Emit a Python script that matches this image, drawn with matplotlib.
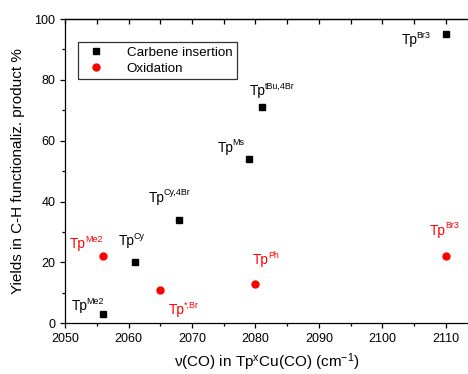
import matplotlib
matplotlib.use("Agg")
import matplotlib.pyplot as plt
from matplotlib.ticker import MultipleLocator

plt.rcParams['font.family'] = ['Liberation Sans', 'DejaVu Sans']
plt.rcParams['mathtext.fontset'] = 'custom'
plt.rcParams['mathtext.rm'] = 'Liberation Sans'
plt.rcParams['mathtext.it'] = 'Liberation Sans:italic'

# carbene insertion (black squares)
carb_x = [2056, 2061, 2068, 2079, 2081, 2110]
carb_y = [3, 20, 34, 54, 71, 95]
carb_lab = ["Me2", "Cy", "Cy,4Br", "Ms", "tBu,4Br", "Br3"]
carb_lab_xy = [(2051, 4.3), (2058.4, 25.6), (2063.2, 39.9),
               (2074, 56.3), (2079.1, 75), (2103, 91.8)]

# oxidation (red circles)
ox_x = [2056, 2065, 2080, 2110]
ox_y = [22, 11, 13, 22]
ox_lab = ["Me2", "*,Br", "Ph", "Br3"]
ox_lab_xy = [(2050.8, 24.6), (2066.4, 3), (2079.6, 19.4), (2107.5, 29)]

fig = plt.figure(figsize=(4.68, 3.74), dpi=100)
ax = fig.add_axes([0.139, 0.136, 0.861, 0.813])

ax.plot(carb_x, carb_y, 's', color='black', markersize=4.3,
        linestyle='none', label="Carbene insertion")
ax.plot(ox_x, ox_y, 'o', color='red', markersize=5,
        linestyle='none', label="Oxidation")


def tp_label(x, y, sup, color):
    t = ax.text(x, y, "Tp", fontsize=9.8, color=color,
                va='baseline', ha='left')
    ax.annotate(sup, xy=(1, 1), xycoords=t, xytext=(-0.6, 1.8),
                textcoords='offset points', fontsize=6.4, color=color,
                va='top', ha='left')


for lab, (x, y) in zip(carb_lab, carb_lab_xy):
    tp_label(x, y, lab, 'black')
for lab, (x, y) in zip(ox_lab, ox_lab_xy):
    tp_label(x, y, lab, 'red')

ax.set_xlim(2050, 2113.5)
ax.set_ylim(0, 100)
ax.xaxis.set_major_locator(MultipleLocator(10))
ax.xaxis.set_minor_locator(MultipleLocator(5))
ax.yaxis.set_major_locator(MultipleLocator(20))
ax.yaxis.set_minor_locator(MultipleLocator(10))

ax.spines['right'].set_visible(False)
for s in ax.spines.values():
    s.set_linewidth(0.9)
ax.tick_params(which='both', direction='out', labelsize=9, width=0.9)
ax.tick_params(which='major', length=3.5)
ax.tick_params(which='minor', length=2.2)

# inward ticks along the top edge
top = ax.secondary_xaxis('top')
top.xaxis.set_major_locator(MultipleLocator(10))
top.xaxis.set_minor_locator(MultipleLocator(5))
top.tick_params(which='both', direction='in', length=3.5, width=0.9,
                labeltop=False)
top.spines['top'].set_linewidth(0.9)

ax.set_xlabel(r"ν(CO) in Tp$^{\mathrm{x}}$Cu(CO) (cm$^{-1}$)", fontsize=11,
              labelpad=5)
ax.set_ylabel("Yields in C-H functionaliz. product %", fontsize=11,
              labelpad=7)

leg = ax.legend(loc='upper left', bbox_to_anchor=(0.032, 0.925),
                fontsize=9.6, frameon=True, fancybox=False,
                edgecolor='black', handletextpad=1.3, borderpad=0.35,
                labelspacing=0.25, borderaxespad=0)
leg.get_frame().set_linewidth(0.9)

plt.savefig("out.png", dpi=100)
